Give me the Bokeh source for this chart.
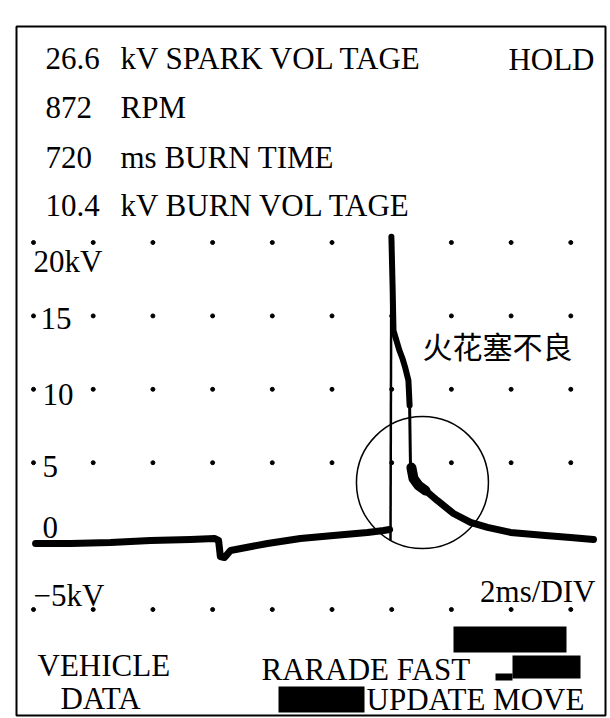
import numpy as np
from bokeh.plotting import figure
from bokeh.models import Range1d
from bokeh.core.properties import value
from bokeh.embed import file_html
from bokeh.resources import INLINE

# ---------------- data ----------------
header_values = ["26.6", "872", "720", "10.4"]
header_labels = ["kV SPARK VOL TAGE", "RPM", "ms BURN TIME", "kV BURN VOL TAGE"]
status_text = "HOLD"
annotation_text = "火花塞不良"
timebase_text = "2ms/DIV"
volt_tick_labels = ["20kV", "15", "10", "5", "0", "\u22125kV"]
bottom_left_lines = ["VEHICLE", "DATA"]
bottom_right_lines = ["RARADE FAST", "UPDATE MOVE"]

grid_time = [0, 2, 4, 6, 8, 10, 12, 14, 16, 18]      # ms, 2 ms/DIV
grid_kv = [20, 15, 10, 5, -5]                          # kV rows with dots

# ignition secondary waveform (ms, kV)
base_time = [0.07, 1.24, 2.58, 3.92, 5.26, 6.06, 6.20, 6.26, 6.40, 6.60,
             7.84, 8.94, 10.05, 11.19, 11.73, 11.93]
base_kv = [-0.50, -0.50, -0.44, -0.30, -0.23, -0.16, -0.30, -1.39, -1.46, -0.98,
           -0.50, -0.16, 0.04, 0.25, 0.38, 0.45]
spike_time = [11.96, 11.99]
spike_kv = [-0.30, 20.40]
fall_time = [11.99, 12.03, 12.06, 12.16, 12.26, 12.36, 12.46, 12.56, 12.60]
fall_kv = [20.40, 17.00, 14.00, 13.32, 12.64, 12.10, 11.42, 10.60, 8.90]
drop_time = [12.60, 12.63]
drop_kv = [8.90, 4.67]
decay_time = [12.66, 12.73, 12.90, 13.13, 13.53, 14.07, 14.64, 15.21, 15.98,
              17.15, 17.99, 18.76]
decay_kv = [4.67, 3.92, 3.45, 3.11, 2.42, 1.54, 0.93, 0.59, 0.25,
            0.04, -0.10, -0.23]
circle_time = [13.03]
circle_kv = [3.65]

# ---------------- layout helpers (reference pixel -> data) ----------------
def rx(px):
    return (px - 33.0) / 29.85

def ry(py):
    return (535.6 - py) / 14.68

SERIF = value("Liberation Serif")
FS = "31px"
MID = "middle"

p = figure(width=610, height=718,
           x_range=Range1d(rx(16), rx(605)), y_range=Range1d(ry(715), ry(26)),
           x_axis_location=None, y_axis_location=None,
           output_backend="svg", toolbar_location=None,
           min_border_left=16, min_border_top=26,
           min_border_right=5, min_border_bottom=3)
p.grid.visible = False
p.outline_line_color = "black"
p.outline_line_width = 2
p.background_fill_color = "white"
p.border_fill_color = "white"

# grid dots
gx, gy = np.meshgrid(grid_time, grid_kv)
p.scatter(gx.ravel(), gy.ravel(), size=4, color="black")

# header text
hy = [ry(58), ry(107), ry(157), ry(205)]
p.text(x=[rx(45)] * 4, y=hy, text=header_values, text_font=SERIF,
       text_font_size=FS, text_baseline=MID, text_color="black")
p.text(x=[rx(120)] * 4, y=hy, text=header_labels, text_font=SERIF,
       text_font_size=FS, text_baseline=MID, text_color="black")
p.text(x=[rx(594)], y=[ry(59)], text=[status_text], text_font=SERIF,
       text_font_size=FS, text_align="right", text_baseline=MID)

# voltage scale labels
p.text(x=[rx(33), rx(40), rx(42), rx(42), rx(42), rx(33)],
       y=[ry(261), ry(318), ry(393.5), ry(466), ry(526.5), ry(594.5)],
       text=volt_tick_labels, text_font=SERIF, text_font_size=FS,
       text_baseline=MID)
p.text(x=[rx(595)], y=[ry(591)], text=[timebase_text], text_font=SERIF,
       text_font_size=FS, text_align="right", text_baseline=MID)

# waveform
p.line(base_time, base_kv, line_width=7, color="black", line_join="round", line_cap="round")
p.line(spike_time, spike_kv, line_width=2.5, color="black")
p.line(fall_time, fall_kv, line_width=6, color="black", line_join="round", line_cap="round")
p.line(drop_time, drop_kv, line_width=3, color="black")
p.line(decay_time, decay_kv, line_width=7, color="black", line_join="round", line_cap="round")
p.line(decay_time[:4], decay_kv[:4], line_width=10, color="black", line_join="round", line_cap="round")

# highlight circle and annotation
p.scatter(circle_time, circle_kv, marker="circle", size=132, fill_color=None,
          line_color="black", line_width=1.5)
p.text(x=[rx(422)], y=[ry(344)], text=[annotation_text],
       text_font=value("Noto Sans CJK SC"), text_font_size="30px",
       text_baseline=MID)

# bottom status area
p.text(x=[rx(37)], y=[ry(664.5)], text=[bottom_left_lines[0]], text_font=SERIF,
       text_font_size=FS, text_baseline=MID)
p.text(x=[rx(100)], y=[ry(697.5)], text=[bottom_left_lines[1]], text_font=SERIF,
       text_font_size=FS, text_align="center", text_baseline=MID)
p.text(x=[rx(261), rx(366)], y=[ry(669), ry(699)], text=bottom_right_lines,
       text_font=SERIF, text_font_size=FS, text_baseline=MID)

# black blocks on the status panel
p.quad(left=[rx(453), rx(512), rx(495), rx(278)],
       right=[rx(566), rx(580), rx(512), rx(364)],
       top=[ry(626), ry(655), ry(673), ry(686)],
       bottom=[ry(652), ry(678), ry(680), ry(712)],
       color="black", line_width=0)

open("out.html", "w").write(file_html(p, INLINE))
